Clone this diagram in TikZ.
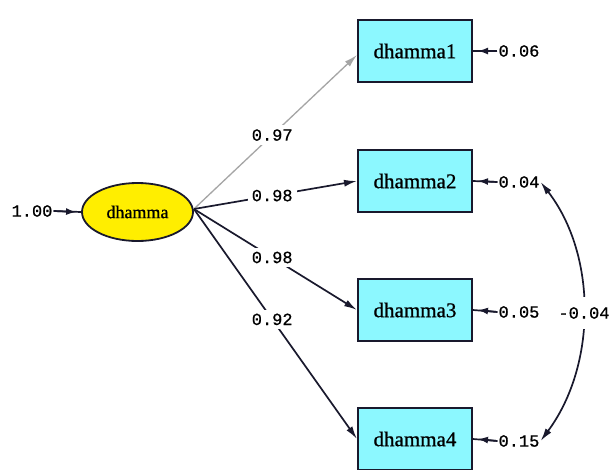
\documentclass[tikz,border=0pt]{standalone}
\usepackage{fontspec}
\setmainfont{Liberation Serif}
\newfontfamily\monofont{Liberation Mono}[FakeBold=0.7]
\newfontfamily\boxfont{Liberation Serif}[FakeBold=0.8]
\usetikzlibrary{arrows.meta,shapes.geometric}
\definecolor{boxcyan}{RGB}{140,248,255}
\definecolor{latyellow}{RGB}{255,238,0}
\definecolor{pathdark}{RGB}{25,25,45}
\definecolor{pathgray}{RGB}{165,165,165}
\begin{document}
\begin{tikzpicture}[x=1pt,y=-1pt,
  obs/.style={draw=pathdark, line width=2pt, fill=boxcyan, minimum width=114pt, minimum height=62pt, inner sep=0pt, font=\boxfont\fontsize{21}{21}\selectfont},
  lat/.style={ellipse, draw=pathdark, line width=1.8pt, fill=latyellow, minimum width=111pt, minimum height=58pt, inner sep=0pt, font=\boxfont\fontsize{18}{18}\selectfont},
  num/.style={inner sep=1pt, font=\monofont\fontsize{17}{17}\selectfont},
  onlab/.style={num, fill=white, inner sep=4pt},
  pth/.style={draw=pathdark, line width=1.7pt, -{Latex[length=13pt,width=7pt]}},
  errline/.style={draw=pathdark, line width=1.7pt},
  errtip/.style={draw=pathdark, line width=1.7pt, -{Latex[length=10pt,width=7pt]}},
  cov/.style={draw=pathdark, line width=1.7pt, {Latex[length=13pt,width=7pt]}-{Latex[length=13pt,width=7pt]}}
]
\useasboundingbox (0,0) rectangle (611,469);
\fill[white] (0,0) rectangle (611,469);

\node[lat] (lv) at (137.5,212) {dhamma};
\node[obs] (d1) at (415,51) {dhamma1};
\node[obs] (d2) at (415,181) {dhamma2};
\node[obs] (d3) at (415,310) {dhamma3};
\node[obs] (d4) at (415,439) {dhamma4};

\node[num] (v0) at (32,211) {1.00};
\node[num] (e1) at (519,51) {0.06};
\node[num] (e2) at (519,182) {0.04};
\node[num] (e3) at (519,312) {0.05};
\node[num] (e4) at (519,441) {0.15};

% variance / error arrows
\draw[errline] (v0.east) -- (lv.west);
\draw[errtip] (v0.east) -- ([xshift=-5pt]lv.west);
\foreach \e/\d in {e1/d1,e2/d2,e3/d3,e4/d4}{
  \draw[errline] (\e.west) -- (\d.east);
  \draw[errtip] (\e.west) -- ([xshift=5pt]\d.east);
}

% loadings
\draw[pth, draw=pathgray, line width=1.3pt] ([yshift=3pt]lv.east) -- node[onlab, pos=0.48] {0.97} ([yshift=-4pt]d1.west);
\draw[pth] ([yshift=3pt]lv.east) -- node[onlab, pos=0.48] {0.98} (d2.west);
\draw[pth] ([yshift=3pt]lv.east) -- node[onlab, pos=0.48] {0.98} (d3.west);
\draw[pth] ([yshift=3pt]lv.east) -- node[onlab, pos=0.48] {0.92} (d4.west);

% error covariance
\draw[cov] (e2.east) .. controls (597,255) and (597,365) .. (e4.east);
\node[onlab, inner ysep=10pt, inner xsep=1pt] (cv) at (584,313) {-0.04};
\end{tikzpicture}
\end{document}
